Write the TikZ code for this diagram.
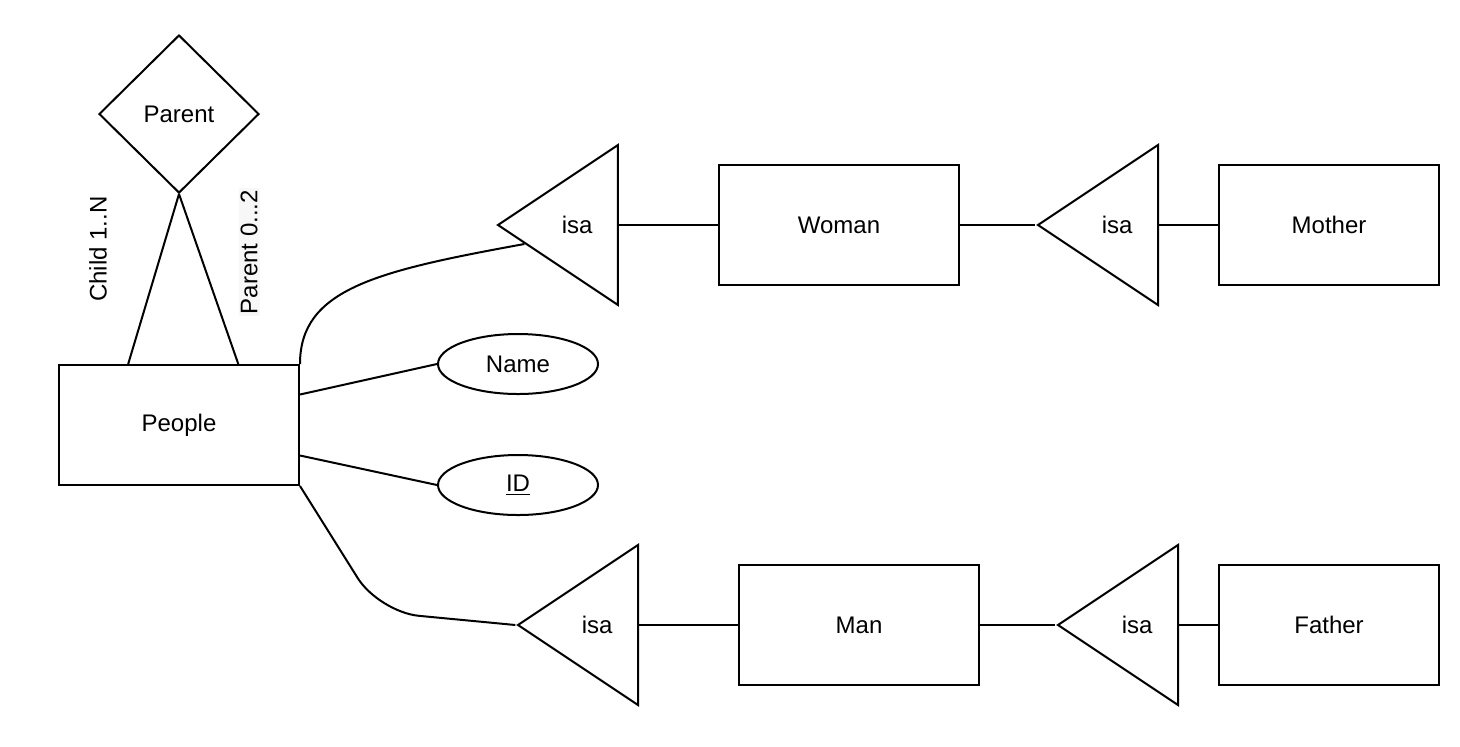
\documentclass[tikz,border=0pt]{standalone}
\usepackage{fontspec}
\setmainfont{Liberation Sans}
\usepackage{tikz}
\usetikzlibrary{shapes.geometric,calc}

\begin{document}
\begin{tikzpicture}[
  x=0.5pt, y=-0.5pt,
  font=\fontsize{12}{14}\selectfont,
  line width=1pt,
  entity/.style={draw, minimum width=120pt, minimum height=60pt, inner sep=0pt},
  rel/.style={draw, diamond, minimum width=80pt, minimum height=79pt, inner sep=0pt},
  attr/.style={draw, ellipse, minimum width=80pt, minimum height=30pt, inner sep=0pt},
  isa/.style={draw, isosceles triangle, isosceles triangle stretches,
              shape border rotate=180, minimum width=80pt, minimum height=60pt,
              inner sep=0pt, anchor=east, label={[xshift=1pt]center:isa}},
  card/.style={rotate=90, inner sep=1pt},
]
\useasboundingbox (0,0) rectangle (1460,746);

\node[rel] (parent) at (179,114) {Parent};
\node[entity] (people) at (179,425) {People};
\node[attr] (name) at (518,364) {Name};
\node[attr] (id) at (518,485) {\underline{ID}};

\node[isa] (isaW) at (619,225) {};
\node[entity] (woman) at (839,225) {Woman};
\node[isa] (isaMo) at (1159,225) {};
\node[entity, minimum width=110pt] (mother) at (1329,225) {Mother};

\node[isa] (isaM) at (639,625) {};
\node[entity] (man) at (859,625) {Man};
\node[isa] (isaF) at (1179,625) {};
\node[entity, minimum width=110pt] (father) at (1329,625) {Father};

\node[card] (childlbl) at (98,249) {Child 1..N};
\node[card, fill=black!3] (parentlbl) at (249,252) {Parent 0...2};

\coordinate (bend) at (379,612);

% relationship
\draw (parent.south) -- ($(people.north west)!0.29!(people.north east)$);
\draw (parent.south) -- ($(people.north west)!0.745!(people.north east)$);

% attributes
\draw ($(people.north east)!0.25!(people.south east)$) -- (name.west);
\draw ($(people.north east)!0.75!(people.south east)$) -- (id.west);

% specialisations
\draw (people.north east) .. controls +(0,-75) and +(-148,27) .. ($(isaW.apex)+(29,19)$);
\draw[rounded corners=20pt] (people.south east) -- (bend) -- (isaM.apex);

\draw (isaW.east) -- (woman.west);
\draw (woman.east) -- (isaMo.apex);
\draw (isaMo.east) -- (mother.west);

\draw (isaM.east) -- (man.west);
\draw (man.east) -- (isaF.apex);
\draw (isaF.east) -- (father.west);
\end{tikzpicture}
\end{document}
